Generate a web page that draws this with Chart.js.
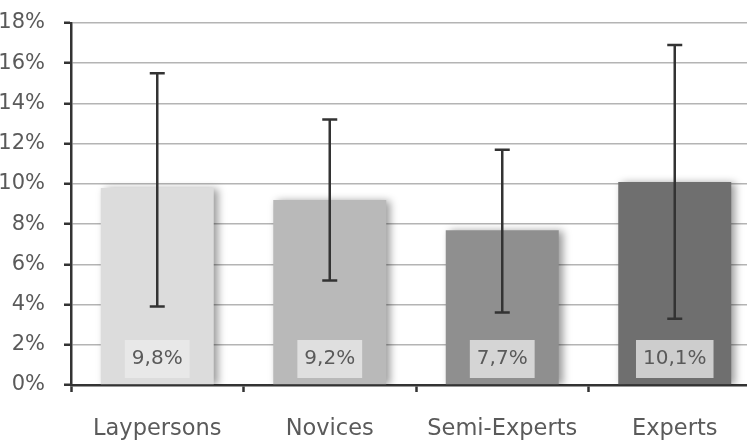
<!DOCTYPE html>
<html>
<head>
<meta charset="utf-8">
<script src="https://cdn.jsdelivr.net/npm/chart.js@4"></script>
<style>
  html, body { margin: 0; padding: 0; background: #fff; overflow: hidden; }
  #wrap { width: 747px; height: 440px; overflow: hidden; }
</style>
</head>
<body>
<div id="wrap"><canvas id="groupChart" width="761" height="440"></canvas></div>
<script>
'use strict';

const groups = ['Laypersons', 'Novices', 'Semi-Experts', 'Experts'];
const shares = [9.8, 9.2, 7.7, 10.1];
const errLow = [3.9, 5.2, 3.6, 3.3];
const errHigh = [15.5, 13.2, 11.7, 16.9];
const valueLabels = ['9,8%', '9,2%', '7,7%', '10,1%'];
const barColors = ['#dcdcdc', '#b9b9b9', '#8f8f8f', '#6f6f6f'];

// soft shadow to the right of each bar
const barShadow = {
  id: 'barShadow',
  beforeDatasetDraw(chart) {
    const c = chart.ctx;
    c.save();
    c.shadowColor = 'rgba(0,0,0,0.4)';
    c.shadowBlur = 8;
    c.shadowOffsetX = 4;
    c.shadowOffsetY = 1;
  },
  afterDatasetDraw(chart) {
    chart.ctx.restore();
  },
};

// value boxes at the foot of the bars, then the error bars
const barExtras = {
  id: 'barExtras',
  afterDatasetsDraw(chart) {
    const c = chart.ctx;
    const y = chart.scales.y;
    const bars = chart.getDatasetMeta(0).data;
    const base = y.getPixelForValue(0);

    c.save();
    c.font = '20px "DejaVu Sans"';
    c.textAlign = 'center';
    c.textBaseline = 'middle';
    bars.forEach((bar, i) => {
      const w = c.measureText(valueLabels[i]).width + 14;
      c.fillStyle = 'rgba(236,236,236,0.75)';
      c.fillRect(bar.x - w / 2, base - 45, w, 38);
      c.fillStyle = '#5a5a5a';
      c.fillText(valueLabels[i], bar.x, base - 26);
    });

    c.strokeStyle = '#333';
    c.lineWidth = 2.5;
    bars.forEach((bar, i) => {
      const top = y.getPixelForValue(errHigh[i]);
      const bot = y.getPixelForValue(errLow[i]);
      c.beginPath();
      c.moveTo(bar.x, top);
      c.lineTo(bar.x, bot);
      c.moveTo(bar.x - 7.5, top);
      c.lineTo(bar.x + 7.5, top);
      c.moveTo(bar.x - 7.5, bot);
      c.lineTo(bar.x + 7.5, bot);
      c.stroke();
    });
    c.restore();
  },
};

new Chart(document.getElementById('groupChart').getContext('2d'), {
  type: 'bar',
  data: {
    labels: groups,
    datasets: [
      {
        data: shares,
        backgroundColor: barColors,
        borderWidth: 0,
        barPercentage: 0.655,
        categoryPercentage: 1,
      },
    ],
  },
  options: {
    responsive: false,
    animation: false,
    layout: { padding: { top: 23, left: 0, right: 0, bottom: 0 } },
    plugins: {
      legend: { display: false },
      tooltip: { enabled: false },
    },
    scales: {
      x: {
        z: 1,
        grid: {
          drawOnChartArea: false,
          tickColor: '#333',
          tickLength: 7,
          tickWidth: 2.5,
        },
        border: { color: '#333', width: 2.5 },
        ticks: {
          font: { family: 'DejaVu Sans', size: 22.5 },
          color: '#5a5a5a',
          padding: 24,
        },
        afterFit(scale) {
          scale.height = 55;
          scale.paddingLeft = 0;
          scale.paddingRight = 0;
        },
      },
      y: {
        min: 0,
        max: 18,
        grid: {
          color: '#b4b4b4',
          lineWidth: 1.5,
          tickColor: '#333',
          tickLength: 7,
          tickWidth: 2.5,
        },
        border: { color: '#333', width: 2.5 },
        ticks: {
          stepSize: 2,
          font: { family: 'DejaVu Sans', size: 21 },
          color: '#5a5a5a',
          padding: 19,
          callback: (v) => v + '%',
        },
        afterFit(scale) {
          scale.width = 71;
          scale.paddingTop = 0;
          scale.paddingBottom = 0;
        },
      },
    },
  },
  plugins: [barShadow, barExtras],
});
</script>
</body>
</html>
